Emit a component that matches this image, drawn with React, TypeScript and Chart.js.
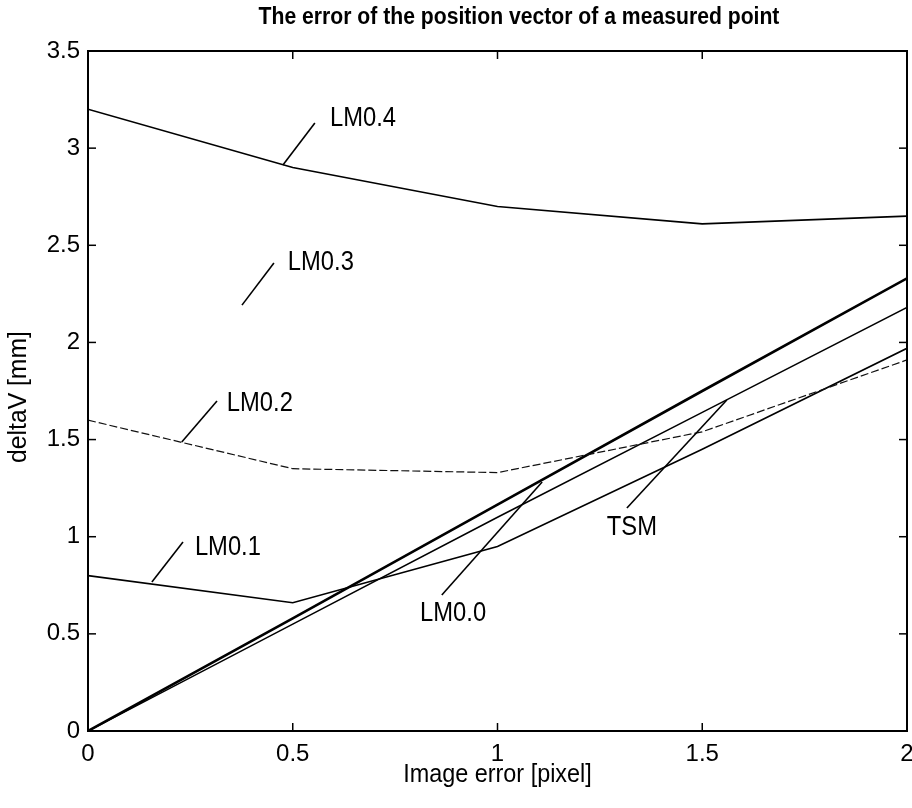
import React, { useEffect, useRef } from "react";
import { Chart, registerables } from "chart.js";

Chart.register(...registerables);

// ---- data ----
const xValues = [0, 0.5, 1, 1.5, 2];
const lm04 = [3.2, 2.9, 2.7, 2.61, 2.65];
const lm02 = [1.6, 1.35, 1.33, 1.54, 1.91];
const lm01 = [0.8, 0.66, 0.95, 1.45, 1.97];
const lm00 = [0, 0.58, 1.165, 1.75, 2.33];
const tsm = [0, 0.55, 1.1, 1.64, 2.18];

const xTicks = [0, 0.5, 1, 1.5, 2];
const yTicks = [0, 0.5, 1, 1.5, 2, 2.5, 3, 3.5];

const labelNames = ["LM0.4", "LM0.3", "LM0.2", "LM0.1", "LM0.0", "TSM"];
const labelX = [0.591, 0.488, 0.339, 0.261, 0.811, 1.267];
const labelY = [3.155, 2.414, 1.693, 0.947, 0.612, 1.05];
const pointerX1 = [0.476, 0.376, 0.229, 0.156, 0.864, 1.316];
const pointerY1 = [2.913, 2.192, 1.487, 0.767, 0.7, 1.148];
const pointerX2 = [0.554, 0.454, 0.315, 0.232, 1.109, 1.56];
const pointerY2 = [3.129, 2.409, 1.698, 0.973, 1.282, 1.704];

const titleText = "The error of the position vector of a measured point";
const xTitle = "Image error [pixel]";
const yTitle = "deltaV [mm]";

const FONT = '"Liberation Sans", Arial, Helvetica, sans-serif';

const toPts = (ys: number[]) => xValues.map((x, i) => ({ x, y: ys[i] }));

const decorPlugin = {
  id: "decor",
  afterDatasetsDraw(chart: any) {
    const { ctx, chartArea: a } = chart;
    const xs = chart.scales.x;
    const ys = chart.scales.y;
    const line = (x1: number, y1: number, x2: number, y2: number) => {
      ctx.beginPath();
      ctx.moveTo(x1, y1);
      ctx.lineTo(x2, y2);
      ctx.stroke();
    };
    const condensed = (t: string, x: number, y: number, sx: number) => {
      ctx.save();
      ctx.translate(x, y);
      ctx.scale(sx, 1);
      ctx.fillText(t, 0, 0);
      ctx.restore();
    };
    ctx.save();
    ctx.strokeStyle = "#000";
    ctx.fillStyle = "#000";
    // frame
    ctx.lineWidth = 2;
    ctx.strokeRect(a.left, a.top, a.right - a.left, a.bottom - a.top);
    // inward ticks
    ctx.lineWidth = 1.5;
    xTicks.forEach((v) => {
      const px = xs.getPixelForValue(v);
      line(px, a.bottom, px, a.bottom - 8);
      line(px, a.top, px, a.top + 8);
    });
    yTicks.forEach((v) => {
      const py = ys.getPixelForValue(v);
      line(a.left, py, a.left + 8, py);
      line(a.right, py, a.right - 8, py);
    });
    // pointers
    ctx.lineWidth = 1.6;
    labelNames.forEach((_, i) => {
      line(
        xs.getPixelForValue(pointerX1[i]),
        ys.getPixelForValue(pointerY1[i]),
        xs.getPixelForValue(pointerX2[i]),
        ys.getPixelForValue(pointerY2[i])
      );
    });
    // labels
    ctx.font = `27px ${FONT}`;
    ctx.textAlign = "left";
    ctx.textBaseline = "middle";
    labelNames.forEach((t, i) => {
      condensed(t, xs.getPixelForValue(labelX[i]), ys.getPixelForValue(labelY[i]) + 1, 0.88);
    });
    // title
    ctx.font = `bold 23px ${FONT}`;
    ctx.textAlign = "center";
    condensed(titleText, 519, 18, 0.92);
    // x title
    ctx.font = `26px ${FONT}`;
    condensed(xTitle, (a.left + a.right) / 2, 775, 0.9);
    // y title
    ctx.save();
    ctx.translate(19, 397);
    ctx.rotate(-Math.PI / 2);
    ctx.scale(0.95, 1);
    ctx.fillText(yTitle, 0, 0);
    ctx.restore();
    ctx.restore();
  },
};

export default function App() {
  const ref = useRef<HTMLCanvasElement | null>(null);
  useEffect(() => {
    document.body.style.margin = "0";
    const canvas = ref.current;
    if (!canvas) return;
    const common = { pointRadius: 0, tension: 0, borderColor: "#000", fill: false };
    const fmt = (v: any) => String(Number(v));
    const chart = new Chart(canvas, {
      type: "line",
      data: {
        datasets: [
          { ...common, label: "LM0.4", data: toPts(lm04), borderWidth: 1.6 },
          { ...common, label: "LM0.2", data: toPts(lm02), borderWidth: 1.2, borderDash: [8, 3], borderColor: "#111" },
          { ...common, label: "LM0.1", data: toPts(lm01), borderWidth: 1.6 },
          { ...common, label: "LM0.0", data: toPts(lm00), borderWidth: 2.6 },
          { ...common, label: "TSM", data: toPts(tsm), borderWidth: 1.5 },
        ],
      },
      options: {
        responsive: false,
        animation: false,
        layout: { padding: { top: 51, right: 5, left: 0, bottom: 0 } },
        plugins: { legend: { display: false }, tooltip: { enabled: false }, title: { display: false } },
        scales: {
          x: {
            type: "linear",
            min: 0,
            max: 2,
            grid: { display: false, drawTicks: false },
            border: { display: false },
            ticks: { stepSize: 0.5, padding: 9, color: "#000", font: { family: FONT, size: 24 }, maxRotation: 0, callback: fmt },
            afterFit(s: any) {
              s.height = 77;
              s.paddingLeft = 0;
              s.paddingRight = 0;
            },
          },
          y: {
            type: "linear",
            min: 0,
            max: 3.5,
            grid: { display: false, drawTicks: false },
            border: { display: false },
            ticks: { stepSize: 0.5, padding: 8, color: "#000", font: { family: FONT, size: 24 }, callback: fmt },
            afterFit(s: any) {
              s.width = 88;
              s.paddingTop = 0;
              s.paddingBottom = 0;
            },
          },
        },
      },
      plugins: [decorPlugin],
    });
    return () => chart.destroy();
  }, []);
  return <canvas ref={ref} width={912} height={808} style={{ display: "block" }} />;
}
